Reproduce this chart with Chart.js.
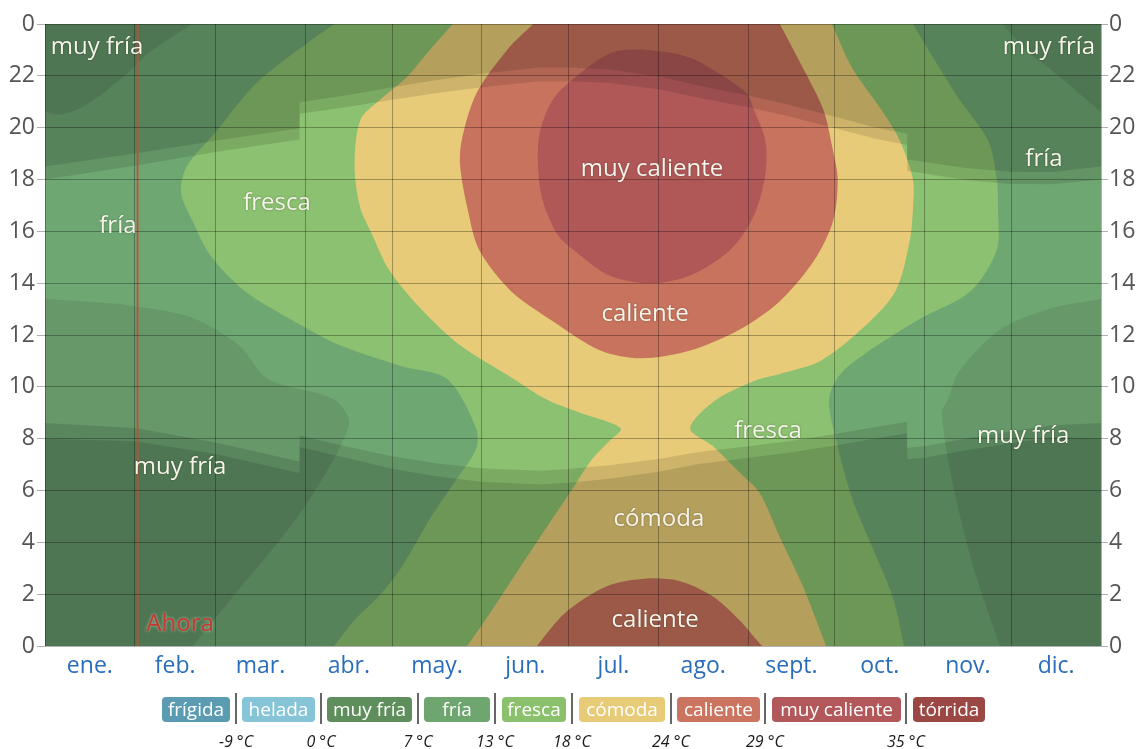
<!DOCTYPE html>
<html lang="es">
<head>
<meta charset="utf-8">
<title>Temperatura media por hora</title>
<script src="https://cdn.jsdelivr.net/npm/chart.js@4.4.1/dist/chart.umd.min.js"></script>
<style>
  body { margin: 0; background: #fff; font-family: "Open Sans", sans-serif; }
  #wrap { position: relative; width: 1140px; height: 749px; overflow: hidden; }
  #chart { position: absolute; left: 0; top: 0; }
  .key { position: absolute; top: 697px; height: 25px; line-height: 25px; border-radius: 4px;
         color: #fff; font-size: 19px; text-align: center; white-space: nowrap; }
  .sep { position: absolute; top: 693px; width: 2px; height: 31px; background: #666; }
  .deg { position: absolute; top: 730px; width: 60px; margin-left: -30px; text-align: center;
         font-style: italic; font-size: 16px; color: #1a1a1a; white-space: nowrap; }
</style>
</head>
<body>
<div id="wrap">
  <canvas id="chart" width="1140" height="749"></canvas>
</div>
<script>
// x = day of year (0..365), y = hour of day (0..24)
var monthNames = ["ene.", "feb.", "mar.", "abr.", "may.", "jun.", "jul.", "ago.", "sept.", "oct.", "nov.", "dic."];
var monthStarts = [0, 31, 59, 90, 120, 151, 181, 212, 243, 273, 304, 334, 365];
var hourTicks = [0, 2, 4, 6, 8, 10, 12, 14, 16, 18, 20, 22, 24];

// legend bands and their limits
var bandNames = ["frígida", "helada", "muy fría", "fría", "fresca", "cómoda", "caliente", "muy caliente", "tórrida"];
var bandColors = ["#5b9cb3", "#86c4d8", "#5e8e5c", "#6fa66f", "#8bc06d", "#e8cb77", "#cb745f", "#b2585a", "#9b4743"];
var bandLimits = ["-9 °C", "0 °C", "7 °C", "13 °C", "18 °C", "24 °C", "29 °C", "35 °C"];

// contour regions, [day, hour]
var muyFriaShape = [[0, 0], [365, 0], [365, 24], [0, 24]];
var friaShape = [[0, 13.4], [0, 20.6], [5, 20.5], [13, 20.8], [27, 21.95], [36, 22.9], [51, 24],
  [331, 24], [339, 23], [351, 21.95], [365, 20.6], [365, 13.4], [347, 13], [330, 12.2], [316, 10.6],
  [312, 9.5], [310, 9], [313.5, 6.4], [321, 3], [330, 0], [51, 0], [65, 1.9], [88, 5.1], [105, 8.5],
  [100, 9.5], [77, 10.3], [67, 11.6], [50, 12.7], [26, 13.2]];
var frescaShape = [[100, 24], [85, 22.8], [72, 21.6], [59.5, 19.9], [49, 18.5], [47, 17.5], [51, 16.4],
  [57, 15.1], [69, 13.7], [85, 12.6], [102, 11.6], [123, 10.8], [139, 10.3], [149, 8.4], [149, 7.6],
  [142, 6.4], [133, 4.9], [123, 3], [116, 2], [107, 1], [100, 0], [297, 0], [293, 1.9], [286, 3.8],
  [279, 5.7], [274, 7.7], [271, 9.5], [275, 10.5], [285, 11.4], [302, 12.6], [320, 13.7], [329, 15.3],
  [329.4, 16.9], [329, 18], [326, 19.5], [316, 21.1], [307, 22.7], [300, 24]];
var comodaShape = [[141, 24], [133, 23], [125, 21.95], [116, 21.1], [109, 20.3], [107, 18.5], [109, 16.9],
  [113, 15.9], [119, 14.5], [130, 13], [143.5, 11.6], [162, 10.3], [173.5, 9.5], [185, 9], [199, 8.4],
  [195, 7.9], [189, 7.2], [182.5, 6.1], [173.5, 4.6], [164, 3], [154, 1.3], [146, 0], [270, 0],
  [262, 2.3], [254, 4.2], [247, 5.9], [240, 6.7], [231, 7.7], [223, 8.4], [232, 9.5], [247, 10.3],
  [254, 10.5], [268, 11], [282, 12.2], [294, 13.7], [299, 15.7], [300, 16.9], [300, 18], [295.5, 19.5],
  [289, 20.7], [279, 22.3], [272, 24]];
var calienteTopShape = [[168.7, 24], [159.7, 23], [149, 21.3], [144, 19.5], [143.5, 18.5], [146, 16.9],
  [150, 15.3], [161, 13.7], [174.6, 12.6], [192, 11.4], [206, 11.1], [223, 11.4], [240, 12.2],
  [254, 13.3], [266, 14.9], [272.4, 16.4], [274, 18], [272.4, 19.1], [269, 20.7], [262, 22.3], [254, 24]];
var calienteLowShape = [[170, 0], [180, 1.3], [194, 2.3], [208, 2.6], [219.5, 2.5], [231, 1.9],
  [240, 1], [247, 0.1], [248, 0]];
var muyCalienteShape = [[242.7, 21.3], [237, 21.8], [223, 22.7], [208, 23], [196, 22.9], [185, 22.1],
  [175.6, 21.1], [171, 19.8], [170.4, 18.5], [172, 17.2], [177, 15.9], [182.5, 15.3], [195, 14.3],
  [209, 14], [223, 14.3], [237, 15.3], [245, 16.6], [249, 18.2], [249, 19.5], [245, 20.7]];

// daylight: sunrise / sunset and civil twilight, local clock hours
var sunDays = [0, 31, 59, 88, 88, 105, 120, 135, 151, 171, 181, 195, 212, 226, 243, 257, 273, 287, 298, 298, 304, 318, 334, 348, 365];
var sunsetHours = [18.0, 18.53, 19.06, 19.54, 20.54, 20.81, 21.08, 21.33, 21.56, 21.79, 21.79, 21.72, 21.48, 21.15, 20.79, 20.44, 19.98, 19.57, 19.33, 18.33, 18.23, 17.98, 17.83, 17.82, 18.0];
var duskHours = [18.5, 19.0, 19.5, 19.98, 20.98, 21.26, 21.56, 21.83, 22.08, 22.32, 22.32, 22.24, 21.98, 21.62, 21.24, 20.88, 20.42, 20.01, 19.77, 18.77, 18.68, 18.44, 18.3, 18.29, 18.5];
var sunriseHours = [8.6, 8.41, 7.85, 7.12, 8.12, 7.68, 7.32, 7.05, 6.86, 6.76, 6.83, 6.97, 7.22, 7.49, 7.71, 7.9, 8.18, 8.45, 8.65, 7.65, 7.71, 8.0, 8.29, 8.52, 8.6];
var dawnHours = [8.0, 7.9, 7.41, 6.68, 7.68, 7.23, 6.84, 6.55, 6.34, 6.23, 6.3, 6.45, 6.72, 7.02, 7.26, 7.46, 7.74, 8.01, 8.21, 7.21, 7.26, 7.54, 7.82, 8.05, 8.0];

var nowDay = 32;

// text written inside the bands
var areaLabels = ["muy fría", "fría", "fresca", "muy fría", "muy caliente", "caliente", "cómoda", "caliente", "fresca", "muy fría", "fría", "muy fría"];
var areaLabelDays = [18, 25.2, 80.2, 46.7, 209.8, 207.4, 212.2, 210.9, 249.9, 338.1, 345.3, 347];
var areaLabelHours = [23.1, 16.2, 17.1, 6.9, 18.4, 12.8, 4.9, 1.0, 8.3, 8.1, 18.8, 23.1];

function onEdge(p) {
    return p[0] <= 0 || p[0] >= 365 || p[1] <= 0 || p[1] >= 24;
}
// points on the plot edges are doubled so the curve stays straight along the edge
function pts(arr, closed) {
    var out = [];
    arr.forEach(function (p) {
        out.push({x: p[0], y: p[1]});
        if (onEdge(p)) out.push({x: p[0], y: p[1]});
    });
    if (closed) {
        out.push({x: arr[0][0], y: arr[0][1]}, {x: arr[1][0], y: arr[1][1]});
    }
    return out;
}
function sunLine(hours, edge) {
    var out = sunDays.map(function (d, i) { return [d, hours[i]]; });
    out.push([365, edge], [0, edge]);
    return out;
}
function area(label, shape, color, tension, closed) {
    return {
        label: label,
        data: pts(shape, closed),
        backgroundColor: color,
        borderColor: "transparent",
        borderWidth: 0,
        pointRadius: 0,
        tension: tension,
        fill: "shape"
    };
}

var shade = "rgba(0, 0, 0, 0.115)";
var datasets = [
    area("muy fría", muyFriaShape, "#66986a", 0),
    area("fría", friaShape, "#6fa773", 0.3),
    area("fresca", frescaShape, "#8bc170", 0.3),
    area("cómoda", comodaShape, "#e8cb78", 0.3),
    area("caliente", calienteTopShape, "#c8735d", 0.3),
    area("caliente", calienteLowShape, "#c8735d", 0.3),
    area("muy caliente", muyCalienteShape, "#b05858", 0.3, true),
    area("crepúsculo", sunLine(sunsetHours, 24), shade, 0),
    area("noche", sunLine(duskHours, 24), shade, 0),
    area("crepúsculo", sunLine(sunriseHours, 0), shade, 0),
    area("noche", sunLine(dawnHours, 0), shade, 0),
    {
        label: "Ahora",
        data: [{x: nowDay, y: 0}, {x: nowDay, y: 24}],
        borderColor: "#e0402a",
        borderWidth: 1.6,
        pointRadius: 0,
        fill: false
    }
];
// first in the list is painted first
datasets.forEach(function (ds, i) { ds.order = datasets.length - i; });

var monthMids = monthNames.map(function (m, i) { return (monthStarts[i] + monthStarts[i + 1]) / 2; });

var labelsPlugin = {
    id: "areaLabels",
    afterDraw: function (chart) {
        var ctx = chart.ctx;
        var xs = chart.scales.x, ys = chart.scales.y;
        ctx.save();
        ctx.font = "24px 'Open Sans', sans-serif";
        ctx.textAlign = "center";
        ctx.textBaseline = "middle";
        ctx.shadowColor = "rgba(0, 0, 0, 0.35)";
        ctx.shadowBlur = 2;
        ctx.fillStyle = "#f5f5ea";
        areaLabels.forEach(function (t, i) {
            ctx.fillText(t, xs.getPixelForValue(areaLabelDays[i]), ys.getPixelForValue(areaLabelHours[i]));
        });
        ctx.shadowColor = "rgba(255, 255, 255, 0.6)";
        ctx.shadowBlur = 3;
        ctx.fillStyle = "#c23a2c";
        ctx.fillText("Ahora", xs.getPixelForValue(nowDay + 14.7), ys.getPixelForValue(0.85));
        ctx.restore();
    }
};

var tickFont = {family: "'Open Sans', sans-serif", size: 23};

new Chart(document.getElementById("chart"), {
    type: "line",
    data: {datasets: datasets},
    options: {
        responsive: false,
        animation: false,
        devicePixelRatio: 1,
        layout: {padding: {top: 24}},
        plugins: {legend: {display: false}, tooltip: {enabled: false}},
        scales: {
            x: {
                type: "linear",
                min: 0,
                max: 365,
                z: 1,
                afterBuildTicks: function (axis) {
                    axis.ticks = monthStarts.concat(monthMids).sort(function (a, b) { return a - b; })
                        .map(function (v) { return {value: v}; });
                },
                afterFit: function (axis) { axis.height = 103; },
                grid: {
                    z: 1,
                    color: function (c) {
                        return c.tick && monthStarts.indexOf(c.tick.value) >= 0 ? "rgba(0, 0, 0, 0.3)" : "transparent";
                    },
                    drawTicks: false
                },
                border: {display: false},
                ticks: {
                    autoSkip: false,
                    maxRotation: 0,
                    padding: 7,
                    color: "#2a6ebb",
                    font: tickFont,
                    callback: function (v) {
                        var i = monthMids.indexOf(v);
                        return i >= 0 ? monthNames[i] : "";
                    }
                }
            },
            y: {
                type: "linear",
                position: "left",
                min: 0,
                max: 24,
                z: 1,
                afterBuildTicks: function (axis) {
                    axis.ticks = hourTicks.map(function (v) { return {value: v}; });
                },
                afterFit: function (axis) { axis.width = 45; },
                grid: {z: 1, color: "rgba(0, 0, 0, 0.3)", tickColor: "#b0b0b0", tickLength: 8},
                border: {display: false},
                ticks: {
                    padding: 2,
                    color: "#555",
                    font: tickFont,
                    callback: function (v) { return v === 24 ? "0" : String(v); }
                }
            },
            y2: {
                type: "linear",
                position: "right",
                min: 0,
                max: 24,
                afterBuildTicks: function (axis) {
                    axis.ticks = hourTicks.map(function (v) { return {value: v}; });
                },
                afterFit: function (axis) { axis.width = 39; },
                grid: {drawOnChartArea: false, tickColor: "#b0b0b0", tickLength: 7},
                border: {display: false},
                ticks: {
                    padding: 1,
                    color: "#555",
                    font: tickFont,
                    callback: function (v) { return v === 24 ? "0" : String(v); }
                }
            }
        }
    },
    plugins: [labelsPlugin]
});

// color key under the chart
var keyLeft = [162, 242, 327, 424, 502, 579, 677, 772, 913];
var keyRight = [230, 315, 412, 490, 566, 665, 760, 901, 985];
var sepX = [236, 321, 418, 495, 572, 671, 765, 906];
var wrap = document.getElementById("wrap");
bandNames.forEach(function (name, i) {
    var k = document.createElement("div");
    k.className = "key";
    k.textContent = name;
    k.style.left = keyLeft[i] + "px";
    k.style.width = (keyRight[i] - keyLeft[i]) + "px";
    k.style.background = bandColors[i];
    wrap.appendChild(k);
});
bandLimits.forEach(function (t, i) {
    var s = document.createElement("div");
    s.className = "sep";
    s.style.left = (sepX[i] - 1) + "px";
    wrap.appendChild(s);
    var d = document.createElement("div");
    d.className = "deg";
    d.textContent = t;
    d.style.left = sepX[i] + "px";
    wrap.appendChild(d);
});
</script>
</body>
</html>
